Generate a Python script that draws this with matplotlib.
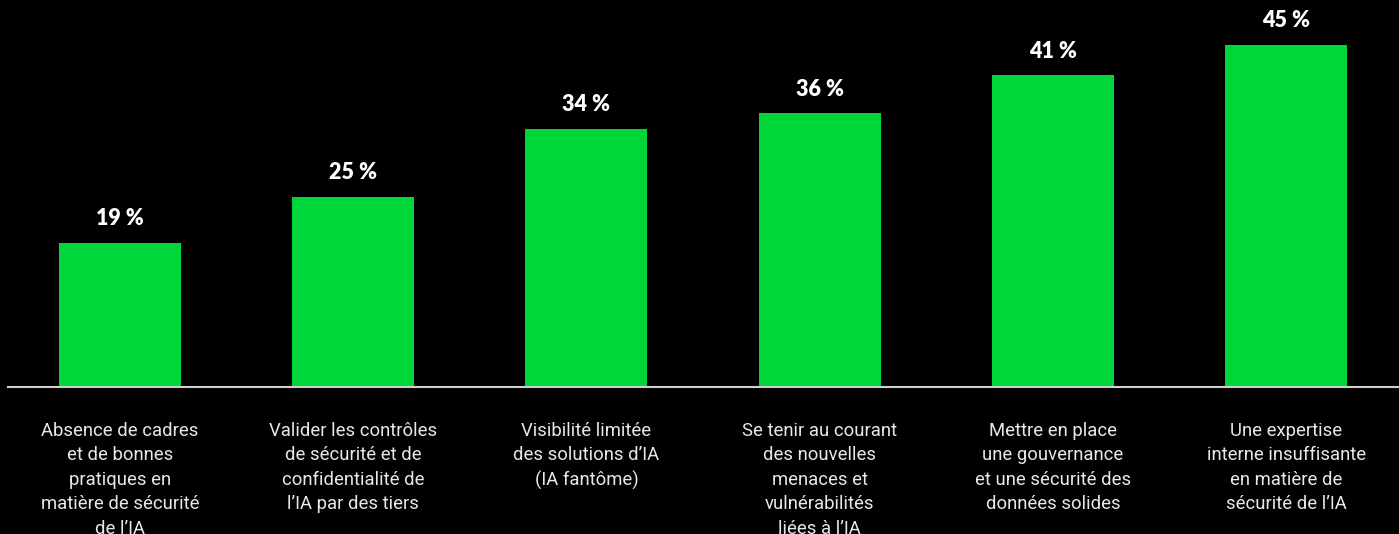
import numpy as np
import matplotlib.pyplot as plt

categories = [
    "Absence de cadres\net de bonnes\npratiques en\nmatière de sécurité\nde l’IA",
    "Valider les contrôles\nde sécurité et de\nconfidentialité de\nl’IA par des tiers",
    "Visibilité limitée\ndes solutions d’IA\n(IA fantôme)",
    "Se tenir au courant\ndes nouvelles\nmenaces et\nvulnérabilités\nliées à l’IA",
    "Mettre en place\nune gouvernance\net une sécurité des\ndonnées solides",
    "Une expertise\ninterne insuffisante\nen matière de\nsécurité de l’IA",
]
values = [19, 25, 34, 36, 41, 45]

green = "#00d639"

fig = plt.figure(figsize=(13.99, 5.34), dpi=100, facecolor="black")
ax = fig.add_axes([8 / 1399, 147 / 534, 1 - 8 / 1399, 387 / 534])
ax.set_facecolor("black")

x = np.arange(len(values))
bars = ax.bar(x, values, width=0.523, color=green, zorder=2)

for b, v in zip(bars, values):
    ax.annotate(f"{v} %", (b.get_x() + b.get_width() / 2, v),
                xytext=(0, 10), textcoords="offset points",
                ha="center", va="bottom", color="white",
                fontsize=15.5, fontweight="heavy", family="Lato")

ax.set_xlim(-0.48, 5.484)
ax.set_ylim(0, 387 / 7.6)

ax.set_xticks(x, categories)
ax.tick_params(axis="x", length=0, pad=25, labelcolor="#e8e8e8", labelsize=13.3)
for t in ax.get_xticklabels():
    t.set_family("Roboto")
    t.set_linespacing(1.47)
ax.set_yticks([])

for side in ["top", "right", "left"]:
    ax.spines[side].set_visible(False)
ax.spines["bottom"].set_color("#d0d0d0")
ax.spines["bottom"].set_linewidth(1.5)
ax.spines["bottom"].set_zorder(3)

fig.savefig("out.png", facecolor="black")
